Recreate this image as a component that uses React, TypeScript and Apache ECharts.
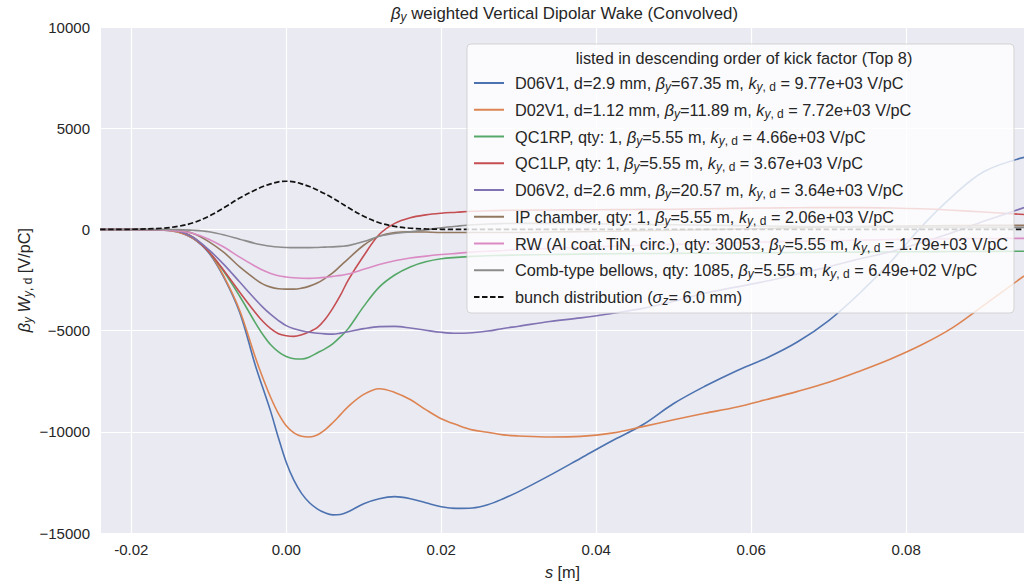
import React, { useEffect, useRef } from "react";
import * as echarts from "echarts";

const FONT = "'Liberation Sans', Arial, sans-serif";
const TXT = "#262626";

// s positions [m]
const S = [-0.024, -0.02, -0.016, -0.014, -0.012, -0.01, -0.008, -0.006,
  -0.004, -0.003, -0.002, -0.001, 0, 0.001, 0.002, 0.003, 0.004, 0.005, 0.006, 0.007, 0.008,
  0.01, 0.012, 0.014, 0.016, 0.018, 0.02, 0.022, 0.024, 0.026, 0.028, 0.03, 0.034, 0.038, 0.042, 0.046, 0.05, 0.054, 0.058, 0.062, 0.066, 0.07, 0.074, 0.078, 0.082, 0.086, 0.09, 0.0952];

const D06V1 = [0, 0, -30, -120, -450, -1150, -2400, -4100,
  -6700, -7850, -9000, -10300, -11500, -12400, -13050, -13500, -13800, -14000, -14100, -14080, -13950,
  -13550, -13300, -13200, -13300, -13500, -13700, -13780, -13760, -13600, -13300, -12950, -12150, -11300, -10450, -9650, -8600, -7750, -7000, -6350, -5550, -4500, -3150, -1600, 150, 1650, 2850, 3560];
const D02V1 = [0, 0, -30, -120, -450, -1100, -2350, -4000,
  -6300, -7350, -8300, -9100, -9700, -10050, -10220, -10250, -10150, -9900, -9550, -9150, -8750,
  -8150, -7870, -8050, -8400, -8900, -9350, -9650, -9900, -10020, -10150, -10200, -10250, -10220, -10060, -9740, -9400, -9080, -8780, -8400, -8000, -7550, -7000, -6400, -5700, -4850, -3750, -2300];
const QC1RP = [0, 0, -15, -80, -400, -1100, -2100, -3300,
  -4600, -5200, -5700, -6050, -6280, -6390, -6400, -6300, -6100, -5900, -5650, -5300, -4900,
  -3800, -2850, -2250, -1850, -1600, -1450, -1380, -1330, -1300, -1280, -1260, -1240, -1220, -1200, -1190, -1180, -1170, -1160, -1150, -1140, -1130, -1120, -1110, -1100, -1090, -1085, -1080];
const QC1LP = [0, 0, -15, -80, -400, -1100, -2050, -3100,
  -4100, -4550, -4900, -5150, -5250, -5280, -5200, -5050, -4850, -4450, -3900, -3250, -2500,
  -1300, -250, 300, 580, 720, 800, 850, 900, 920, 940, 950, 960, 970, 980, 990, 1000, 1020, 1040, 1060, 1070, 1080, 1080, 1060, 1020, 950, 860, 740];
const D06V2 = [0, 0, -15, -80, -400, -1000, -1750, -2600,
  -3450, -3850, -4200, -4500, -4750, -4900, -5000, -5080, -5130, -5160, -5170, -5120, -5050,
  -4900, -4800, -4790, -4870, -4980, -5080, -5130, -5100, -5020, -4890, -4780, -4550, -4370, -4150, -3900, -3550, -3150, -2850, -2550, -2200, -1850, -1450, -1100, -650, -150, 400, 1080];
const IP_CHAMBER = [0, 0, -10, -50, -200, -600, -1150, -1850,
  -2450, -2700, -2850, -2930, -2950, -2950, -2900, -2800, -2650, -2420, -2150, -1800, -1450,
  -780, -330, -150, -120, -130, -150, -150, -150, -150, -150, -150, -130, -110, -90, -60, -40, -10, 20, 50, 80, 110, 140, 160, 180, 190, 200, 200];
const RW = [0, 0, -20, -80, -200, -480, -880, -1370,
  -1820, -2020, -2180, -2290, -2350, -2390, -2410, -2415, -2400, -2370, -2320, -2270, -2200,
  -1970, -1730, -1550, -1410, -1320, -1240, -1180, -1120, -1080, -1040, -1000, -940, -880, -830, -780, -740, -700, -660, -620, -590, -560, -530, -500, -480, -460, -450, -440];
const COMB = [0, 0, 0, -10, -40, -110, -270, -480,
  -690, -770, -830, -870, -890, -900, -900, -900, -890, -875, -860, -835, -800,
  -600, -340, -200, -120, -20, 80, 160, 230, 270, 290, 300, 300, 290, 270, 250, 230, 210, 190, 170, 150, 140, 130, 120, 110, 100, 100, 100];
const BUNCH = [0, 8, 60, 150, 330, 650, 1080, 1550,
  1950, 2120, 2250, 2350, 2380, 2350, 2250, 2120, 1950, 1760, 1550, 1320, 1080,
  650, 330, 150, 60, 25, 8, 0, 0, 0, 0, 0, 0, 0, 0, 0, 0, 0, 0, 0, 0, 0, 0, 0, 0, 0, 0, 0];

const NAMES = [
  "D06V1, d=2.9 mm, βy=67.35 m, ky,d = 9.77e+03 V/pC",
  "D02V1, d=1.12 mm, βy=11.89 m, ky,d = 7.72e+03 V/pC",
  "QC1RP, qty: 1, βy=5.55 m, ky,d = 4.66e+03 V/pC",
  "QC1LP, qty: 1, βy=5.55 m, ky,d = 3.67e+03 V/pC",
  "D06V2, d=2.6 mm, βy=20.57 m, ky,d = 3.64e+03 V/pC",
  "IP chamber, qty: 1, βy=5.55 m, ky,d = 2.06e+03 V/pC",
  "RW (Al coat.TiN, circ.), qty: 30053, βy=5.55 m, ky,d = 1.79e+03 V/pC",
  "Comb-type bellows, qty: 1085, βy=5.55 m, ky,d = 6.49e+02 V/pC",
  "bunch distribution (σz= 6.0 mm)",
];
const LABELS = [
  "D06V1, d=2.9 mm, {it|β}{sub|y}=67.35 m, {it|k}{sub|y}{subr|, d} = 9.77e+03 V/pC",
  "D02V1, d=1.12 mm, {it|β}{sub|y}=11.89 m, {it|k}{sub|y}{subr|, d} = 7.72e+03 V/pC",
  "QC1RP, qty: 1, {it|β}{sub|y}=5.55 m, {it|k}{sub|y}{subr|, d} = 4.66e+03 V/pC",
  "QC1LP, qty: 1, {it|β}{sub|y}=5.55 m, {it|k}{sub|y}{subr|, d} = 3.67e+03 V/pC",
  "D06V2, d=2.6 mm, {it|β}{sub|y}=20.57 m, {it|k}{sub|y}{subr|, d} = 3.64e+03 V/pC",
  "IP chamber, qty: 1, {it|β}{sub|y}=5.55 m, {it|k}{sub|y}{subr|, d} = 2.06e+03 V/pC",
  "RW (Al coat.TiN, circ.), qty: 30053, {it|β}{sub|y}=5.55 m, {it|k}{sub|y}{subr|, d} = 1.79e+03 V/pC",
  "Comb-type bellows, qty: 1085, {it|β}{sub|y}=5.55 m, {it|k}{sub|y}{subr|, d} = 6.49e+02 V/pC",
  "bunch distribution ({it|σ}{sub|z}= 6.0 mm)",
];
const VALUES = [D06V1, D02V1, QC1RP, QC1LP, D06V2, IP_CHAMBER, RW, COMB, BUNCH];
const COLORS = ["#4C72B0", "#DD8452", "#55A868", "#C44E52", "#8172B3", "#937860", "#DA8BC3", "#8C8C8C", "#111111"];

const FS = 16.3;
const RICH: any = {
  it: { fontStyle: "italic", fontSize: FS, fontFamily: FONT, color: TXT, lineHeight: 20 },
  sub: { fontStyle: "italic", fontSize: 12, fontFamily: FONT, color: TXT, verticalAlign: "bottom", lineHeight: 12 },
  subr: { fontSize: 12, fontFamily: FONT, color: TXT, verticalAlign: "bottom", lineHeight: 12 },
};
const RICH_T: any = {
  it: { ...RICH.it, fontSize: 16.8 },
  sub: RICH.sub,
  subr: RICH.subr,
};

export default function App() {
  const ref = useRef<HTMLDivElement>(null);
  useEffect(() => {
    if (!ref.current) return;
    const chart = echarts.init(ref.current, null, { renderer: "svg" });
    const labelByName: Record<string, string> = {};
    NAMES.forEach((n, i) => (labelByName[n] = LABELS[i]));
    const series = VALUES.map((vals, i) => ({
      type: "line",
      name: NAMES[i],
      data: S.map((s, j) => [s, vals[j]]),
      symbol: "none",
      showSymbol: false,
      smooth: 0.35,
      silent: true,
      z: 2,
      itemStyle: { color: COLORS[i] },
      lineStyle: i === 8 ? { color: COLORS[i], width: 1.7, type: [5.5, 2.5] } : { color: COLORS[i], width: 1.6 },
    }));
    chart.setOption({
      animation: false,
      backgroundColor: "#ffffff",
      textStyle: { fontFamily: FONT },
      title: {
        text: "{it|β}{sub|y} weighted Vertical Dipolar Wake (Convolved)",
        left: 391,
        top: 3,
        padding: 0,
        textStyle: { fontSize: 16.8, fontWeight: "normal", fontFamily: FONT, color: TXT, lineHeight: 20, rich: RICH_T },
      },
      grid: { left: 101, right: 0, top: 27, bottom: 52, show: true, backgroundColor: "#EAEAF2", borderWidth: 0 },
      xAxis: {
        type: "value",
        min: -0.0239,
        max: 0.0952,
        splitNumber: 6,
        axisLine: { show: false },
        axisTick: { show: false },
        splitLine: { show: true, showMinLine: false, showMaxLine: false, lineStyle: { color: "#ffffff", width: 1.2 } },
        axisLabel: {
          showMinLabel: false,
          showMaxLabel: false,
          formatter: (v: number) => v.toFixed(2),
          fontSize: 15,
          color: TXT,
          margin: 9,
          fontFamily: FONT,
        },
        name: "{it|s} [m]",
        nameLocation: "middle",
        nameGap: 27,
        nameTextStyle: { fontSize: FS, color: TXT, fontFamily: FONT, lineHeight: 20, rich: RICH },
      },
      yAxis: {
        type: "value",
        min: -15000,
        max: 10000,
        interval: 5000,
        axisLine: { show: false },
        axisTick: { show: false },
        splitLine: { show: true, lineStyle: { color: "#ffffff", width: 1.2 } },
        axisLabel: {
          formatter: (v: number) => (v < 0 ? "\u2212" + Math.abs(v) : String(v)),
          fontSize: 15,
          color: TXT,
          margin: 11,
          fontFamily: FONT,
        },
        name: "{it|β}{sub|y} {it|W}{sub|y}{subr|, d} [V/pC]",
        nameLocation: "middle",
        nameMoveOverlap: false,
        nameGap: 67,
        nameTextStyle: { fontSize: FS, color: TXT, fontFamily: FONT, lineHeight: 20, rich: RICH },
      },
      legend: {
        orient: "vertical",
        left: 467,
        top: 44,
        padding: [29, 6, 6, 6],
        itemWidth: 30,
        itemHeight: 14,
        itemGap: 6.75,
        backgroundColor: "rgba(255,255,255,0.8)",
        borderColor: "rgba(204,204,204,0.8)",
        borderWidth: 1,
        borderRadius: 4,
        selectedMode: false,
        z: 10,
        data: NAMES,
        itemStyle: { opacity: 0 },
        formatter: (name: string) => labelByName[name] || name,
        textStyle: { fontSize: FS, fontFamily: FONT, color: TXT, lineHeight: 20, padding: [0, 0, 0, 6], rich: RICH },
      },
      graphic: [
        {
          type: "text",
          x: 744,
          y: 58,
          z: 100,
          silent: true,
          style: {
            text: "listed in descending order of kick factor (Top 8)",
            fill: TXT,
            font: `${FS}px ${FONT}`,
            align: "center",
            verticalAlign: "middle",
          },
        },
      ],
      series,
    });
    return () => chart.dispose();
  }, []);
  return <div ref={ref} style={{ position: "absolute", left: 0, top: 0, width: 1024, height: 587 }} />;
}
